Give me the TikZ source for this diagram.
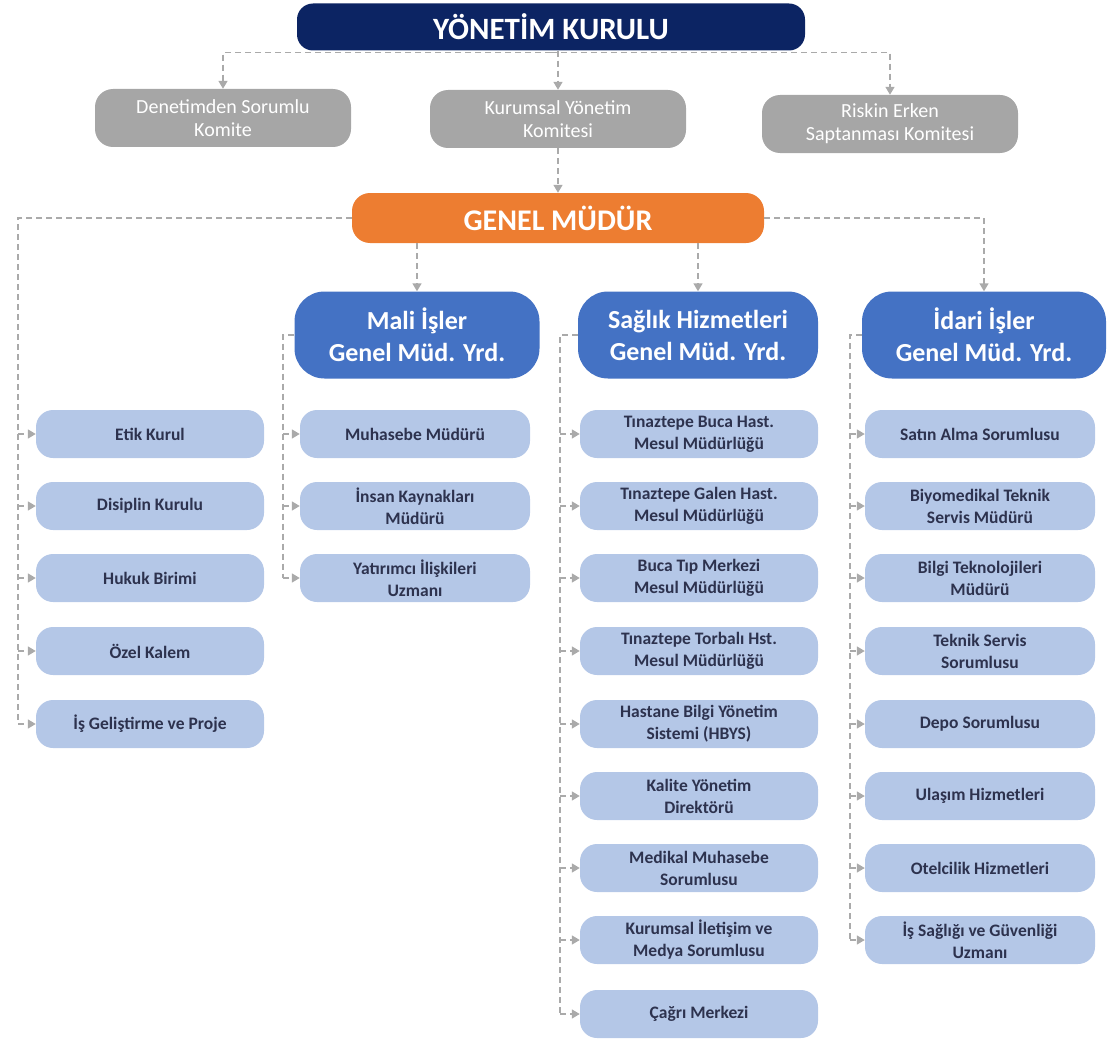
\documentclass[tikz,border=0pt]{standalone}
\usepackage{fontspec}
\setmainfont{Carlito}
\usepackage{xcolor}
\usepackage{tikz}
\usetikzlibrary{arrows.meta}

\definecolor{boardblue}{RGB}{12,36,99}
\definecolor{chieforange}{RGB}{237,125,49}
\definecolor{deputyblue}{RGB}{68,114,196}
\definecolor{unitblue}{RGB}{180,199,231}
\definecolor{unittext}{RGB}{45,50,78}
\definecolor{comgray}{RGB}{166,166,166}
\definecolor{linegray}{RGB}{170,170,170}

\begin{document}
\begin{tikzpicture}[x=1pt,y=-1pt]
      \tikzstyle{board}=[rounded corners=16pt,fill=boardblue,text=white,font=\fontsize{31}{36}\selectfont\bfseries,minimum width=508pt,minimum height=47pt,inner sep=0pt]
      \tikzstyle{committee}=[rounded corners=18pt,fill=comgray,text=white,font=\fontsize{20}{23}\selectfont,align=center,minimum width=256pt,minimum height=58pt,inner sep=0pt]
      \tikzstyle{chief}=[rounded corners=18pt,fill=chieforange,text=white,font=\fontsize{30}{34}\selectfont\bfseries,minimum width=412pt,minimum height=50pt,inner sep=0pt]
      \tikzstyle{deputy}=[rounded corners=30pt,fill=deputyblue,text=white,font=\fontsize{26}{32}\selectfont\bfseries,align=center,minimum height=87pt,inner sep=0pt]
      \tikzstyle{unit}=[rounded corners=17pt,fill=unitblue,text=unittext,font=\fontsize{17.5}{22}\selectfont\bfseries,align=center,minimum height=48pt,inner sep=0pt]
      \tikzstyle{dashline}=[draw=linegray,line width=1.5pt,dash pattern=on 6pt off 4pt]
      \tikzstyle{edge}=[dashline,-{Triangle[length=8pt,width=9pt]}]
      \useasboundingbox (0,0) rectangle (1108,1046);
      % top levels
      \node[board] (yk) at (551,27) {YÖNETİM KURULU};
      \node[committee] (dsk) at (223,118) {Denetimden Sorumlu\\Komite};
      \node[committee] (kyk) at (558,119) {Kurumsal Yönetim\\Komitesi};
      \node[committee] (rek) at (890,124) {Riskin Erken\\Saptanması Komitesi};
      \node[chief] (gm) at (558,218) {GENEL MÜDÜR};
      \node[deputy,minimum width=245pt] (mali) at (417,335) {Mali İşler\\Genel Müd. Yrd.};
      \node[deputy,minimum width=240pt] (saglik) at (698,335) {Sağlık Hizmetleri\\Genel Müd. Yrd.};
      \node[deputy,minimum width=244pt] (idari) at (984,335) {İdari İşler\\Genel Müd. Yrd.};
      % left column
      \node[unit,minimum width=228pt] (etik) at (150,434) {Etik Kurul};
      \node[unit,minimum width=228pt] (disiplin) at (150,506) {Disiplin Kurulu};
      \node[unit,minimum width=228pt] (hukuk) at (150,578) {Hukuk Birimi};
      \node[unit,minimum width=228pt] (ozel) at (150,651) {Özel Kalem};
      \node[unit,minimum width=228pt] (isgel) at (150,724) {İş Geliştirme ve Proje};
      % mali isler
      \node[unit,minimum width=230pt] (muh) at (415,434) {Muhasebe Müdürü};
      \node[unit,minimum width=230pt] (ik) at (415,506) {İnsan Kaynakları\\Müdürü};
      \node[unit,minimum width=230pt] (yat) at (415,578) {Yatırımcı İlişkileri\\Uzmanı};
      % saglik hizmetleri
      \node[unit,minimum width=238pt] (tbh) at (699,434) {Tınaztepe Buca Hast.\\Mesul Müdürlüğü};
      \node[unit,minimum width=238pt] (tgh) at (699,506) {Tınaztepe Galen Hast.\\Mesul Müdürlüğü};
      \node[unit,minimum width=238pt] (btm) at (699,578) {Buca Tıp Merkezi\\Mesul Müdürlüğü};
      \node[unit,minimum width=238pt] (tth) at (699,651) {Tınaztepe Torbalı Hst.\\Mesul Müdürlüğü};
      \node[unit,minimum width=238pt] (hbys) at (699,724) {Hastane Bilgi Yönetim\\Sistemi (HBYS)};
      \node[unit,minimum width=238pt] (kal) at (699,796) {Kalite Yönetim\\Direktörü};
      \node[unit,minimum width=238pt] (med) at (699,868) {Medikal Muhasebe\\Sorumlusu};
      \node[unit,minimum width=238pt] (kil) at (699,940) {Kurumsal İletişim ve\\Medya Sorumlusu};
      \node[unit,minimum width=238pt] (cag) at (699,1014) {Çağrı Merkezi};
      % idari isler
      \node[unit,minimum width=230pt] (sat) at (980,434) {Satın Alma Sorumlusu};
      \node[unit,minimum width=230pt] (bio) at (980,506) {Biyomedikal Teknik\\Servis Müdürü};
      \node[unit,minimum width=230pt] (bt) at (980,578) {Bilgi Teknolojileri\\Müdürü};
      \node[unit,minimum width=230pt] (tss) at (980,651) {Teknik Servis\\Sorumlusu};
      \node[unit,minimum width=230pt] (depo) at (980,724) {Depo Sorumlusu};
      \node[unit,minimum width=230pt] (ulas) at (980,796) {Ulaşım Hizmetleri};
      \node[unit,minimum width=230pt] (otel) at (980,868) {Otelcilik Hizmetleri};
      \node[unit,minimum width=230pt] (isg) at (980,940) {İş Sağlığı ve Güvenliği\\Uzmanı};
      % column rails
      \coordinate (lrail) at (18,724);
      \coordinate (mrail) at (283,578);
      \coordinate (srail) at (560,1014);
      \coordinate (irail) at (850,940);
      % board to committees
      \draw[edge] ([yshift=-2pt]yk.south) -| (dsk.north);
      \draw[edge] ([yshift=-2pt]yk.south) -| (rek.north);
      \draw[edge] (kyk.north |- yk.south) -- (kyk.north);
      \draw[edge] (kyk.south) -- (kyk.south |- gm.north);
      % general manager to deputies
      \draw[edge] (mali.north |- gm.south) -- (mali.north);
      \draw[edge] (saglik.north |- gm.south) -- (saglik.north);
      \draw[edge] (gm.east) -| (idari.north);
      \draw[dashline] (gm.west) -| (lrail);
      \draw[dashline] (mali.west) -| (mrail);
      \draw[dashline] (saglik.west) -| (srail);
      \draw[dashline] (idari.west) -| (irail);
      % left column arrows
      \draw[edge] (etik.west -| lrail) -- (etik.west);
      \draw[edge] (disiplin.west -| lrail) -- (disiplin.west);
      \draw[edge] (hukuk.west -| lrail) -- (hukuk.west);
      \draw[edge] (ozel.west -| lrail) -- (ozel.west);
      \draw[edge] (isgel.west -| lrail) -- (isgel.west);
      % mali arrows
      \draw[edge] (muh.west -| mrail) -- (muh.west);
      \draw[edge] (ik.west -| mrail) -- (ik.west);
      \draw[edge] (yat.west -| mrail) -- (yat.west);
      % saglik arrows
      \draw[edge] (tbh.west -| srail) -- (tbh.west);
      \draw[edge] (tgh.west -| srail) -- (tgh.west);
      \draw[edge] (btm.west -| srail) -- (btm.west);
      \draw[edge] (tth.west -| srail) -- (tth.west);
      \draw[edge] (hbys.west -| srail) -- (hbys.west);
      \draw[edge] (kal.west -| srail) -- (kal.west);
      \draw[edge] (med.west -| srail) -- (med.west);
      \draw[edge] (kil.west -| srail) -- (kil.west);
      \draw[edge] (cag.west -| srail) -- (cag.west);
      % idari arrows
      \draw[edge] (sat.west -| irail) -- (sat.west);
      \draw[edge] (bio.west -| irail) -- (bio.west);
      \draw[edge] (bt.west -| irail) -- (bt.west);
      \draw[edge] (tss.west -| irail) -- (tss.west);
      \draw[edge] (depo.west -| irail) -- (depo.west);
      \draw[edge] (ulas.west -| irail) -- (ulas.west);
      \draw[edge] (otel.west -| irail) -- (otel.west);
      \draw[edge] (isg.west -| irail) -- (isg.west);
\end{tikzpicture}
\end{document}
